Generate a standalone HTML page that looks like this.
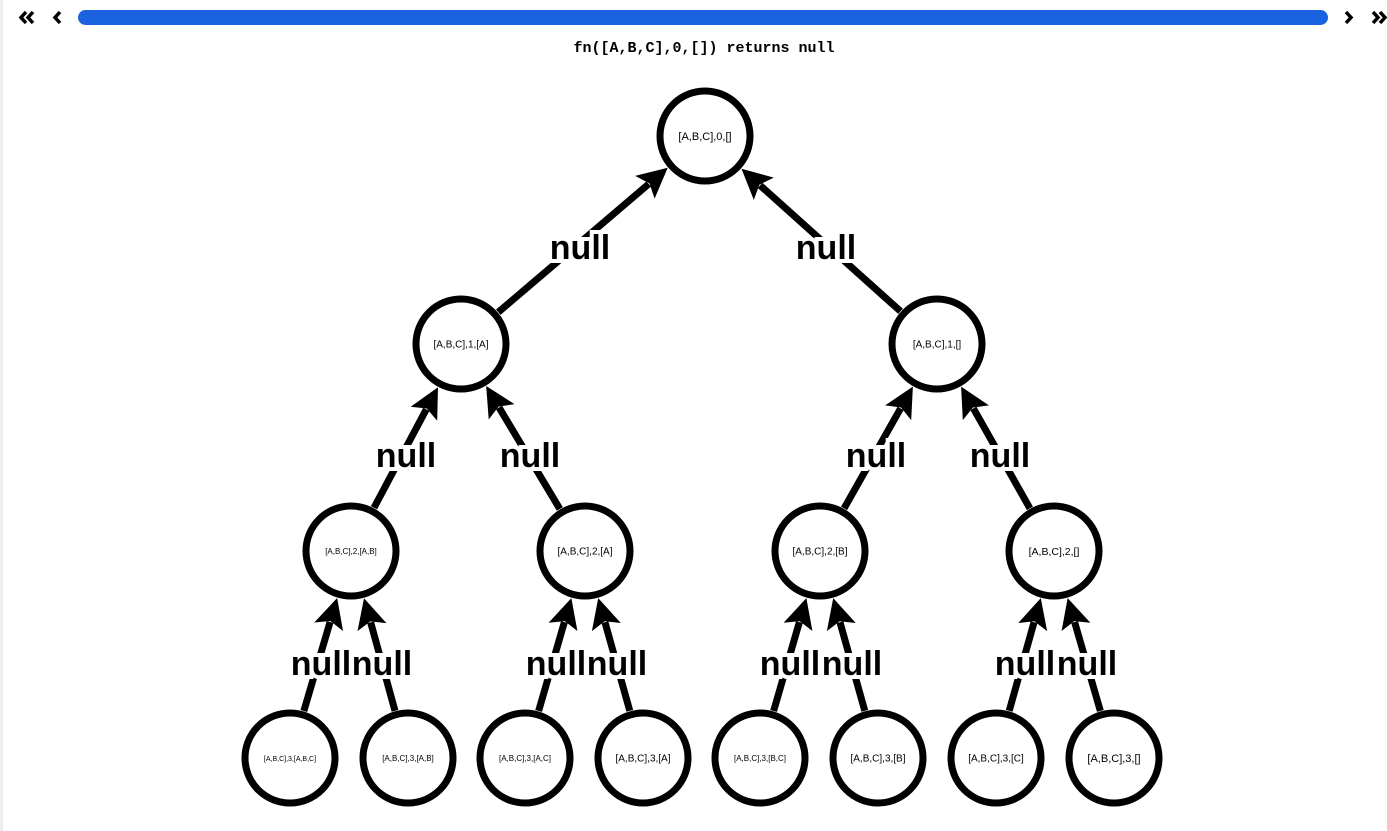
<!DOCTYPE html>
<html><head><meta charset="utf-8"><style>
html,body{margin:0;padding:0;background:#fff;width:1387px;height:831px;overflow:hidden}
.frame{position:absolute;left:0;top:0;width:3px;height:831px;background:#eeeeee}
svg{position:absolute;left:0;top:0}
.n{font-family:"Liberation Sans",sans-serif;font-size:34px;font-weight:bold;fill:#000;stroke:#fff;stroke-width:8px;paint-order:stroke;text-anchor:middle}
.t{font-family:"Liberation Sans",sans-serif;fill:#000;text-anchor:middle;dominant-baseline:middle}
</style></head><body>
<div class="frame"></div>
<svg width="1387" height="831" viewBox="0 0 1387 831">
<rect x="78" y="10" width="1250" height="15" rx="7.5" fill="#1a62e0"/>
<g fill="none" stroke="#000" stroke-width="3.5" stroke-linejoin="miter">
<path d="M26 12 L21 17.5 L26 23 M33 12 L28 17.5 L33 23"/>
<path d="M60 12 L55 17.5 L60 23"/>
<path d="M1346 12 L1351 17.5 L1346 23"/>
<path d="M1373 12 L1378 17.5 L1373 23 M1380 12 L1385 17.5 L1380 23"/>
</g>
<text x="704" y="52" font-family="Liberation Mono,monospace" font-size="15" font-weight="bold" text-anchor="middle">fn([A,B,C],0,[]) returns null</text>
<g id="edges"></g>
<g fill="#fff" stroke="#000" stroke-width="7">
<circle cx="705" cy="136" r="45"/>
<circle cx="461" cy="344" r="45"/><circle cx="937" cy="344" r="45"/>
<circle cx="351" cy="551" r="45"/><circle cx="585" cy="551" r="45"/><circle cx="820" cy="551" r="45"/><circle cx="1054" cy="551" r="45"/>
<circle cx="290" cy="758" r="45"/><circle cx="408" cy="758" r="45"/><circle cx="525" cy="758" r="45"/><circle cx="643" cy="758" r="45"/>
<circle cx="760" cy="758" r="45"/><circle cx="878" cy="758" r="45"/><circle cx="996" cy="758" r="45"/><circle cx="1114" cy="758" r="45"/>
</g>
<g class="t">
<text x="705" y="137" font-size="11">[A,B,C],0,[]</text>
<text x="461" y="345" font-size="10">[A,B,C],1,[A]</text>
<text x="937" y="345" font-size="10">[A,B,C],1,[]</text>
<text x="351" y="552" font-size="8">[A,B,C],2,[A,B]</text>
<text x="585" y="552" font-size="10">[A,B,C],2,[A]</text>
<text x="820" y="552" font-size="10">[A,B,C],2,[B]</text>
<text x="1054" y="552" font-size="10.5">[A,B,C],2,[]</text>
<text x="290" y="759" font-size="7">[A,B,C],3,[A,B,C]</text>
<text x="408" y="759" font-size="8">[A,B,C],3,[A,B]</text>
<text x="525" y="759" font-size="8">[A,B,C],3,[A,C]</text>
<text x="643" y="759" font-size="10">[A,B,C],3,[A]</text>
<text x="760" y="759" font-size="8">[A,B,C],3,[B,C]</text>
<text x="878" y="759" font-size="10">[A,B,C],3,[B]</text>
<text x="996" y="759" font-size="10">[A,B,C],3,[C]</text>
<text x="1114" y="759" font-size="11">[A,B,C],3,[]</text>
</g>
<g class="n">
<text x="580" y="259">null</text><text x="826" y="259">null</text>
<text x="406" y="467">null</text><text x="530" y="467">null</text><text x="876" y="467">null</text><text x="1000" y="467">null</text>
<text x="321" y="675">null</text><text x="382" y="675">null</text><text x="556" y="675">null</text><text x="617" y="675">null</text>
<text x="790" y="675">null</text><text x="852" y="675">null</text><text x="1025" y="675">null</text><text x="1087" y="675">null</text>
</g>
</svg>
<script>
(function(){
var E=[[461,344,705,136],[937,344,705,136],
[351,551,461,344],[585,551,461,344],[820,551,937,344],[1054,551,937,344],
[290,758,351,551],[408,758,351,551],[525,758,585,551],[643,758,585,551],
[760,758,820,551],[878,758,820,551],[996,758,1054,551],[1114,758,1054,551]];
var g=document.getElementById('edges'),ns='http://www.w3.org/2000/svg',R=49,L=30,W=15,s='';
E.forEach(function(e){
var dx=e[2]-e[0],dy=e[3]-e[1],len=Math.hypot(dx,dy),ux=dx/len,uy=dy/len;
var sx=e[0]+ux*R,sy=e[1]+uy*R,tx=e[2]-ux*R,ty=e[3]-uy*R;
var bx=tx-ux*L,by=ty-uy*L,px=-uy,py=ux;
s+='<line x1="'+sx+'" y1="'+sy+'" x2="'+(bx+ux*5)+'" y2="'+(by+uy*5)+'" stroke="#000" stroke-width="7"/>';
s+='<polygon points="'+tx+','+ty+' '+(bx+px*W)+','+(by+py*W)+' '+(bx+ux*6)+','+(by+uy*6)+' '+(bx-px*W)+','+(by-py*W)+'" fill="#000"/>';
});
g.innerHTML=s;
})();
</script>
</body></html>
